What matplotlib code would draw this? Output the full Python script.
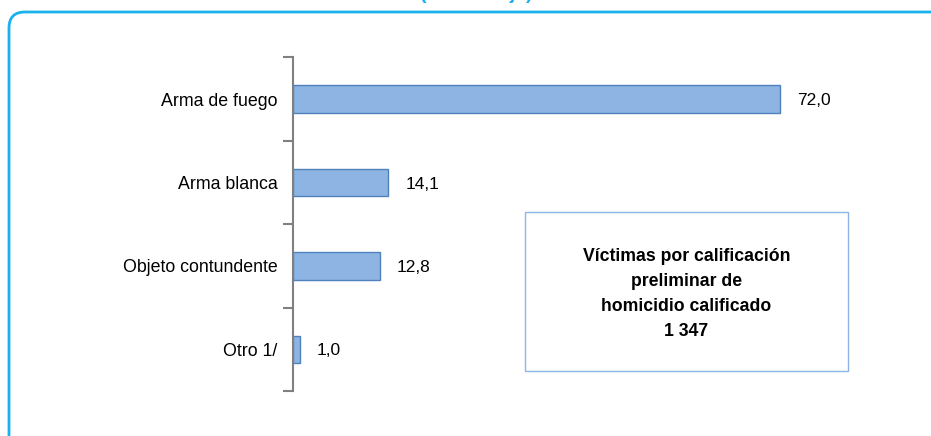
import matplotlib
matplotlib.use("Agg")
import matplotlib.pyplot as plt
from matplotlib.patches import FancyBboxPatch, Rectangle
from matplotlib.transforms import IdentityTransform

plt.rcParams['font.family'] = ['Liberation Sans', 'DejaVu Sans']

categories = ["Arma de fuego", "Arma blanca", "Objeto contundente", "Otro 1/"]
values = [72.0, 14.1, 12.8, 1.0]
value_labels = ["72,0", "14,1", "12,8", "1,0"]
title = "(Porcentaje)"
box_text = "Víctimas por calificación\npreliminar de\nhomicidio calificado\n1 347"

W, H = 931, 436
fig = plt.figure(figsize=(W / 100, H / 100), dpi=100)

# rounded frame (extends past right and bottom edges)
frame = FancyBboxPatch((9, -40), 1000, 40 + (H - 12), boxstyle="round,pad=0,rounding_size=16",
                       transform=IdentityTransform(), fill=False, edgecolor="#1AB1EC", linewidth=2.0)
fig.add_artist(frame)

# title, mostly above the visible area as in the reference
fig.text(476 / W, 1 - (-1) / H, title, ha="center", va="baseline", fontsize=14,
         fontweight="bold", color="#1AB1EC")

ax_left, ax_top, ax_bottom = 293, 57.5, 391
px_per_unit = 487 / 72.0
xmax = 80
ax_w = xmax * px_per_unit
ax = fig.add_axes([ax_left / W, 1 - ax_bottom / H, ax_w / W, (ax_bottom - ax_top) / H])
ax.patch.set_alpha(0)

n = len(categories)
ypos = list(range(n - 1, -1, -1))
ax.barh(ypos, values, height=0.33, color="#8EB4E3", edgecolor="#4F81BD", linewidth=1.0)
for y, v, lab in zip(ypos, values, value_labels):
    ax.text(v + 17 / px_per_unit, y - 0.02, lab, ha="left", va="center", fontsize=12.5, color="#000000")

ax.set_xlim(0, xmax)
ax.set_ylim(-0.5, n - 0.5)
ax.set_yticks([i - 0.5 for i in range(n + 1)])
ax.set_yticklabels([])
ax.set_yticks(ypos, minor=True)
ax.set_yticklabels(categories, minor=True, fontsize=12.8)
ax.tick_params(axis="y", which="major", length=7, width=1.5, color="#808080", direction="out")
ax.tick_params(axis="y", which="minor", length=0, pad=11)
ax.set_xticks([])
for s in ["top", "right", "bottom"]:
    ax.spines[s].set_visible(False)
ax.spines["left"].set_color("#808080")
ax.spines["left"].set_linewidth(1.5)

# info box
bx0, by0, bx1, by1 = 525, 212, 848, 371
fig.add_artist(Rectangle((bx0 / W, 1 - by1 / H), (bx1 - bx0) / W, (by1 - by0) / H,
                         transform=fig.transFigure, fill=True, facecolor="white",
                         edgecolor="#8EB4E3", linewidth=1.0))
fig.text((bx0 + bx1) / 2 / W, 1 - 294 / H, box_text, ha="center", va="center",
         fontsize=12.7, fontweight="bold", linespacing=1.6)

fig.savefig("out.png", dpi=100)
